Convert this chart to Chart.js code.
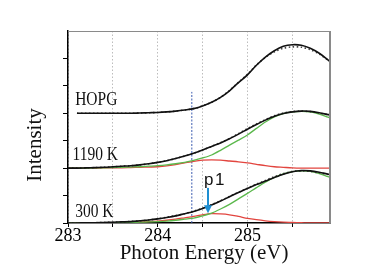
<!DOCTYPE html>
<html>
<head>
<meta charset="utf-8">
<script src="https://cdn.jsdelivr.net/npm/chart.js@4.4.1/dist/chart.umd.min.js"></script>
<style>
  html, body { margin: 0; padding: 0; background: #fff; }
  canvas { display: block; }
</style>
</head>
<body>
<canvas id="xasChart" width="383" height="268"></canvas>
<script>
  // photon energy grid (eV)
  const energies = [283.0, 283.1, 283.2, 283.3, 283.4, 283.5, 283.6, 283.7, 283.8, 283.9,
                    284.0, 284.1, 284.2, 284.3, 284.4, 284.5, 284.6, 284.7, 284.8, 284.9,
                    285.0, 285.1, 285.2, 285.3, 285.4, 285.5, 285.6, 285.7, 285.8, 285.9, 285.92];

  // HOPG (offset 4)
  const hopgFit  = [null, 4.0, 4.0, 4.0, 4.0, 4.0, 4.0, 4.0, 4.01, 4.02,
                    4.03, 4.05, 4.08, 4.12, 4.17, 4.27, 4.40, 4.58, 4.82, 5.12,
                    5.40, 5.75, 6.05, 6.28, 6.44, 6.50, 6.48, 6.37, 6.19, 5.94, 5.89];
  const hopgData = [null, 4.0, 4.0, 4.0, 4.0, 4.0, 4.0, 4.0, 4.01, 4.02,
                    4.03, 4.05, 4.08, 4.12, 4.17, 4.27, 4.40, 4.58, 4.83, 5.13,
                    5.42, 5.76, 6.04, 6.24, 6.37, 6.42, 6.41, 6.32, 6.16, 5.93, 5.89];

  // 1190 K (offset 2)
  const k1190Fit   = [2.0, 2.0, 2.01, 2.02, 2.03, 2.05, 2.07, 2.09, 2.12, 2.16,
                      2.21, 2.27, 2.35, 2.44, 2.54, 2.66, 2.79, 2.92, 3.07, 3.24,
                      3.42, 3.59, 3.75, 3.89, 3.99, 4.05, 4.08, 4.07, 4.02, 3.95, 3.94];
  const k1190Data  = [2.0, 2.0, 2.01, 2.02, 2.03, 2.05, 2.07, 2.09, 2.12, 2.16,
                      2.21, 2.27, 2.35, 2.44, 2.54, 2.66, 2.79, 2.93, 3.08, 3.26,
                      3.44, 3.61, 3.77, 3.91, 4.01, 4.06, 4.08, 4.06, 4.01, 3.95, 3.94];
  const k1190Main  = [2.0, 2.0, 2.0, 2.01, 2.01, 2.02, 2.03, 2.04, 2.05, 2.07,
                      2.09, 2.12, 2.16, 2.21, 2.28, 2.37, 2.48, 2.65, 2.84, 3.02,
                      3.21, 3.45, 3.68, 3.87, 3.99, 4.05, 4.07, 4.05, 3.97, 3.86, 3.84];
  const k1190P1    = [2.0, 2.0, 2.0, 2.0, 2.01, 2.01, 2.01, 2.02, 2.03, 2.04,
                      2.05, 2.08, 2.13, 2.19, 2.25, 2.29, 2.30, 2.29, 2.26, 2.23,
                      2.19, 2.14, 2.09, 2.05, 2.03, 2.01, 2.0, 2.0, 2.0, 2.0, 2.0];

  // 300 K (offset 0)
  const k300Fit  = [0, 0, 0.01, 0.01, 0.02, 0.03, 0.04, 0.05, 0.08, 0.11,
                    0.15, 0.20, 0.26, 0.34, 0.42, 0.53, 0.66, 0.80, 0.96, 1.11,
                    1.26, 1.40, 1.53, 1.66, 1.78, 1.87, 1.91, 1.90, 1.85, 1.78, 1.77];
  const k300Data = [0, 0, 0.01, 0.01, 0.02, 0.03, 0.04, 0.06, 0.08, 0.11,
                    0.15, 0.21, 0.27, 0.34, 0.43, 0.54, 0.67, 0.81, 0.97, 1.12,
                    1.27, 1.42, 1.55, 1.69, 1.80, 1.88, 1.90, 1.88, 1.83, 1.77, 1.76];
  const k300Main = [0, 0, 0, 0, 0, 0.01, 0.01, 0.02, 0.03, 0.04,
                    0.05, 0.07, 0.10, 0.14, 0.18, 0.26, 0.36, 0.51, 0.68, 0.88,
                    1.08, 1.29, 1.49, 1.66, 1.79, 1.87, 1.90, 1.88, 1.80, 1.69, 1.67];
  const k300P1   = [0, 0, 0, 0, 0.01, 0.01, 0.02, 0.03, 0.04, 0.05,
                    0.07, 0.10, 0.14, 0.19, 0.24, 0.30, 0.34, 0.33, 0.30, 0.24,
                    0.17, 0.12, 0.08, 0.05, 0.03, 0.02, 0.01, 0, 0, 0, 0];

  // guide line and p1 arrow
  const markerEnergy = 284.38;
  const markerTop = 4.78;
  const p1Energy = 284.56;
  const p1ArrowFrom = 1.28;
  const p1ArrowTo = 0.36;

  const curveLabels = [
    { text: 'HOPG',   x: 283.08, y: 4.30 },
    { text: '1190 K', x: 283.05, y: 2.30 },
    { text: '300 K',  x: 283.08, y: 0.21 }
  ];

  const pts = vals => energies.map((x, i) => ({ x: x, y: vals[i] }));

  function fitLine(vals) {
    return { data: pts(vals), borderColor: '#111', borderWidth: 1.6, tension: 0.3 };
  }
  function dataLine(vals) {
    return { data: pts(vals), borderColor: '#444', borderWidth: 1.6, borderDash: [1.5, 2.5], tension: 0.3 };
  }
  function compLine(vals, color) {
    return { data: pts(vals), borderColor: color, borderWidth: 1.3, tension: 0.3 };
  }

  const GREEN = '#5bb84c';
  const RED = '#e2453f';
  const SERIF = "'Times New Roman', 'Liberation Serif', Times, serif";

  const overlay = {
    id: 'overlay',
    afterDatasetsDraw(chart) {
      const ctx = chart.ctx;
      const xs = chart.scales.x, ys = chart.scales.y;
      const a = chart.chartArea;
      ctx.save();

      // frame top / right
      ctx.strokeStyle = '#8a8a8a';
      ctx.lineWidth = 1;
      ctx.beginPath();
      ctx.moveTo(a.left, a.top + 0.5);
      ctx.lineTo(a.right, a.top + 0.5);
      ctx.stroke();
      ctx.lineWidth = 2;
      ctx.beginPath();
      ctx.moveTo(a.right, a.top);
      ctx.lineTo(a.right, a.bottom);
      ctx.stroke();

      // curve labels
      ctx.fillStyle = '#111';
      ctx.font = '18px ' + SERIF;
      ctx.textBaseline = 'alphabetic';
      ctx.textAlign = 'left';
      curveLabels.forEach(l => {
        ctx.save();
        ctx.translate(xs.getPixelForValue(l.x), ys.getPixelForValue(l.y));
        ctx.scale(0.86, 1);
        ctx.fillText(l.text, 0, 0);
        ctx.restore();
      });

      // p1 arrow
      const ax = xs.getPixelForValue(p1Energy);
      const ay0 = ys.getPixelForValue(p1ArrowFrom);
      const ay1 = ys.getPixelForValue(p1ArrowTo);
      ctx.strokeStyle = '#1f8fd2';
      ctx.fillStyle = '#1f8fd2';
      ctx.lineWidth = 2;
      ctx.beginPath();
      ctx.moveTo(ax, ay0);
      ctx.lineTo(ax, ay1 - 6);
      ctx.stroke();
      ctx.beginPath();
      ctx.moveTo(ax - 4, ay1 - 8);
      ctx.lineTo(ax + 4, ay1 - 8);
      ctx.lineTo(ax, ay1);
      ctx.closePath();
      ctx.fill();

      ctx.fillStyle = '#111';
      ctx.font = '17px "Liberation Sans", Arial, sans-serif';
      ctx.textAlign = 'left';
      ctx.fillText('p', ax - 4, ay0 - 3);
      ctx.fillText('1', ax + 7, ay0 - 3);

      // axis titles
      ctx.font = '21px ' + SERIF;
      ctx.textAlign = 'center';
      ctx.textBaseline = 'alphabetic';
      ctx.fillText('Photon Energy (eV)', 204, 259);
      ctx.translate(41, 145);
      ctx.rotate(-Math.PI / 2);
      ctx.fillText('Intensity', 0, 0);
      ctx.restore();
    }
  };

  function drawChart() {
    const ctx = document.getElementById('xasChart').getContext('2d');
    new Chart(ctx, {
      type: 'scatter',
      data: {
        datasets: [
          fitLine(hopgFit), fitLine(k1190Fit), fitLine(k300Fit),
          dataLine(hopgData), dataLine(k1190Data), dataLine(k300Data),
          compLine(k1190Main, GREEN), compLine(k300Main, GREEN),
          compLine(k1190P1, RED), compLine(k300P1, RED),
          { data: [{ x: markerEnergy, y: 0 }, { x: markerEnergy, y: markerTop }],
            borderColor: '#3d5db0', borderWidth: 1, borderDash: [2, 1.5] }
        ].map(d => Object.assign({ showLine: true, pointRadius: 0, fill: false, spanGaps: false }, d))
      },
      options: {
        responsive: false,
        animation: false,
        devicePixelRatio: 1,
        layout: { padding: { left: 0, top: 31, right: 53, bottom: 0 } },
        plugins: { legend: { display: false }, tooltip: { enabled: false } },
        scales: {
          x: {
            type: 'linear',
            min: 283, max: 285.92,
            afterFit: s => { s.height = 45; },
            ticks: {
              stepSize: 0.5, includeBounds: false, maxRotation: 0, autoSkip: false,
              color: '#000', padding: -2,
              font: { family: SERIF, size: 18 },
              callback: v => (Number.isInteger(v) ? String(v) : '')
            },
            grid: { color: '#bdbdbd', lineWidth: 1, tickLength: 4, tickColor: '#000', tickWidth: 1 },
            border: { color: '#000', width: 1.5, dash: [1.5, 2] }
          },
          y: {
            min: 0, max: 7,
            afterFit: s => { s.width = 68; },
            ticks: { stepSize: 1, callback: () => '', padding: 0 },
            grid: {
              drawOnChartArea: false, tickLength: 5,
              tickColor: c => (c.tick && c.tick.value === 7 ? 'rgba(0,0,0,0)' : '#000')
            },
            border: { color: '#000', width: 1.5 }
          }
        }
      },
      plugins: [overlay]
    });
  }

  window.onload = drawChart;
</script>
</body>
</html>
